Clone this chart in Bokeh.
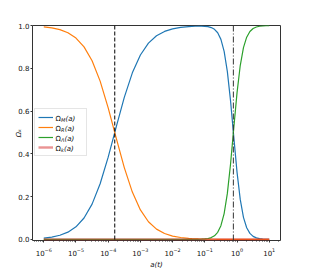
from bokeh.plotting import figure
from bokeh.models import (Range1d, FixedTicker, LogTickFormatter, NumeralTickFormatter,
                          Span, Legend, LegendItem, Label)
from bokeh.embed import file_html
from bokeh.resources import INLINE

# ---- data ----
log_a = [-6.0, -5.75, -5.5, -5.25, -5.0, -4.75, -4.5, -4.25, -4.0, -3.75, -3.5, -3.25,
         -3.0, -2.75, -2.5, -2.25, -2.0, -1.75, -1.5,
         -1.4, -1.3, -1.2, -1.1, -1.0, -0.9, -0.8, -0.7, -0.6, -0.5, -0.4, -0.3, -0.2,
         -0.1, 0.0, 0.1, 0.2, 0.3, 0.4, 0.5, 0.6, 0.7, 0.8, 0.9, 1.0]
omega_m = [0.0062, 0.0110, 0.0194, 0.0340, 0.0588, 0.1001, 0.1651, 0.2601, 0.3847, 0.5265,
           0.6641, 0.7786, 0.8621, 0.9175, 0.9519, 0.9723, 0.9843, 0.9911, 0.9949,
           0.9959, 0.9965, 0.9969, 0.9970, 0.9962, 0.9944, 0.9904, 0.9822, 0.9660, 0.9351,
           0.8789, 0.7846, 0.6463, 0.4781, 0.3146, 0.1871, 0.1034, 0.0546, 0.0282, 0.0143,
           0.0072, 0.0036, 0.0018, 0.0009, 0.0005]
omega_r = [0.9938, 0.9890, 0.9806, 0.9660, 0.9412, 0.8999, 0.8349, 0.7399, 0.6153, 0.4735,
           0.3359, 0.2214, 0.1379, 0.0825, 0.0481, 0.0277, 0.0157, 0.0089, 0.0050,
           0.0040, 0.0032, 0.0025, 0.0020, 0.0016, 0.0013, 0.0010, 0.0008, 0.0006, 0.0005,
           0.0004, 0.0003, 0.0002, 0.0001, 0.0001, 0.0, 0.0, 0.0, 0.0, 0.0,
           0.0, 0.0, 0.0, 0.0, 0.0]
omega_l = [0.0, 0.0, 0.0, 0.0, 0.0, 0.0, 0.0, 0.0, 0.0, 0.0,
           0.0, 0.0, 0.0, 0.0, 0.0, 0.0, 0.0, 0.0, 0.0001,
           0.0001, 0.0003, 0.0005, 0.0011, 0.0022, 0.0043, 0.0086, 0.0170, 0.0333, 0.0644,
           0.1208, 0.2151, 0.3535, 0.5218, 0.6853, 0.8129, 0.8966, 0.9454, 0.9718, 0.9857,
           0.9928, 0.9964, 0.9982, 0.9991, 0.9995]
omega_k = [0.0, 0.0, 0.0, 0.0, 0.0, 0.0, 0.0, 0.0, 0.0, 0.0,
           0.0, 0.0, 0.0, 0.0, 0.0, 0.0, 0.0, 0.0, 0.0,
           0.0, 0.0, 0.0, 0.0, 0.0, 0.0, 0.0, 0.0, 0.0, 0.0,
           0.0, 0.0, 0.0, 0.0, 0.0, 0.0, 0.0, 0.0, 0.0, 0.0,
           0.0, 0.0, 0.0, 0.0, 0.0]
a_eq = 1.6e-4      # matter-radiation equality (dashed line)
a_ml = 0.77        # matter-Lambda equality (dash-dot line)
series_subs = ["M", "R", "Λ", "k"]
series_colors = ["#1f77b4", "#ff7f0e", "#2ca02c", "#d62728"]
x_ticks = [1e-6, 1e-5, 1e-4, 1e-3, 1e-2, 1e-1, 1e0, 1e1]
y_ticks = [0.0, 0.2, 0.4, 0.6, 0.8, 1.0]
y_label = "Ωₖ"
x_label = "a(t)"

a = [10 ** v for v in log_a]
FONT = "DejaVu Sans"
TXT = "#111111"

p = figure(x_axis_type="log",
           x_range=Range1d(10 ** -6.35, 10 ** 1.35), y_range=Range1d(-0.005, 1.0),
           frame_width=248, frame_height=215,
           min_border_left=32, min_border_right=24, min_border_top=25, min_border_bottom=26,
           output_backend="svg", toolbar_location=None)
p.xgrid.visible = False
p.ygrid.visible = False
p.outline_line_color = "#333333"
p.outline_line_width = 1
p.background_fill_color = "white"
p.border_fill_color = "white"

# curves
r_m = p.line(a, omega_m, line_color=series_colors[0], line_width=1.2)
r_r = p.line(a, omega_r, line_color=series_colors[1], line_width=1.2)
r_l = p.line(a, omega_l, line_color=series_colors[2], line_width=1.2)
r_k = p.line(a, omega_k, line_color=series_colors[3], line_width=2.4, line_alpha=0.5)

# vertical markers
p.add_layout(Span(location=a_eq, dimension="height", line_color="black",
                  line_width=1, line_dash="4 2"))
p.add_layout(Span(location=a_ml, dimension="height", line_color="#333333",
                  line_width=1, line_dash="6 2 1 2"))

# axes
minor = [k * 10.0 ** e for e in range(-7, 2) for k in range(2, 10)]
p.xaxis.ticker = FixedTicker(ticks=x_ticks, minor_ticks=minor)
p.xaxis.formatter = LogTickFormatter()
p.yaxis.ticker = FixedTicker(ticks=y_ticks)
p.yaxis.formatter = NumeralTickFormatter(format="0.0")
for ax in (p.xaxis[0], p.yaxis[0]):
    ax.axis_line_color = None
    ax.major_tick_in = 0
    ax.major_tick_out = 2
    ax.major_tick_line_color = "#333333"
    ax.minor_tick_line_color = "#333333"
    ax.major_label_text_font = FONT
    ax.major_label_text_font_size = "7px"
    ax.major_label_text_color = TXT
    ax.axis_label_text_font = FONT
    ax.axis_label_text_font_size = "7px"
    ax.axis_label_text_color = TXT
p.xaxis.major_label_standoff = 5
p.yaxis.major_label_standoff = 1
p.xaxis.minor_tick_in = 0
p.xaxis.minor_tick_out = 1
p.yaxis.minor_tick_out = 0
p.yaxis.minor_tick_in = 0
p.xaxis.axis_label = x_label
p.xaxis.axis_label_text_font_style = "italic"
p.xaxis.axis_label_standoff = 2
p.yaxis.axis_label = y_label
p.yaxis.axis_label_standoff = -8

# legend box + swatches (transparent so the text labels show through)
legend = Legend(items=[LegendItem(label=" ", renderers=[r]) for r in (r_m, r_r, r_l, r_k)],
                location=(2, 84), padding=3, spacing=0, margin=0,
                glyph_width=15, glyph_height=10, label_height=10, label_width=27,
                label_standoff=3, label_text_font_size="7px",
                border_line_color="#cccccc", border_line_width=1,
                background_fill_alpha=0.0)
p.add_layout(legend)

# legend labels with subscripts
sub_widths = {"M": 4.3, "R": 3.5, "Λ": 3.4, "k": 2.9}
for i, sub in enumerate(series_subs):
    yc = 122 - 10 * i
    p.add_layout(Label(x=23, y=yc, x_units="screen", y_units="screen", text="Ω",
                       text_font=FONT, text_font_size="7px", text_baseline="middle",
                       text_color=TXT))
    p.add_layout(Label(x=28.4, y=yc - 1.8, x_units="screen", y_units="screen", text=sub,
                       text_font=FONT, text_font_size="5px", text_baseline="middle",
                       text_font_style="italic", text_color=TXT))
    p.add_layout(Label(x=28.4 + sub_widths[sub] + 0.3, y=yc, x_units="screen",
                       y_units="screen", text="(a)", text_font=FONT, text_font_size="7px",
                       text_baseline="middle", text_font_style="italic", text_color=TXT))

open("out.html", "w").write(file_html(p, INLINE))
